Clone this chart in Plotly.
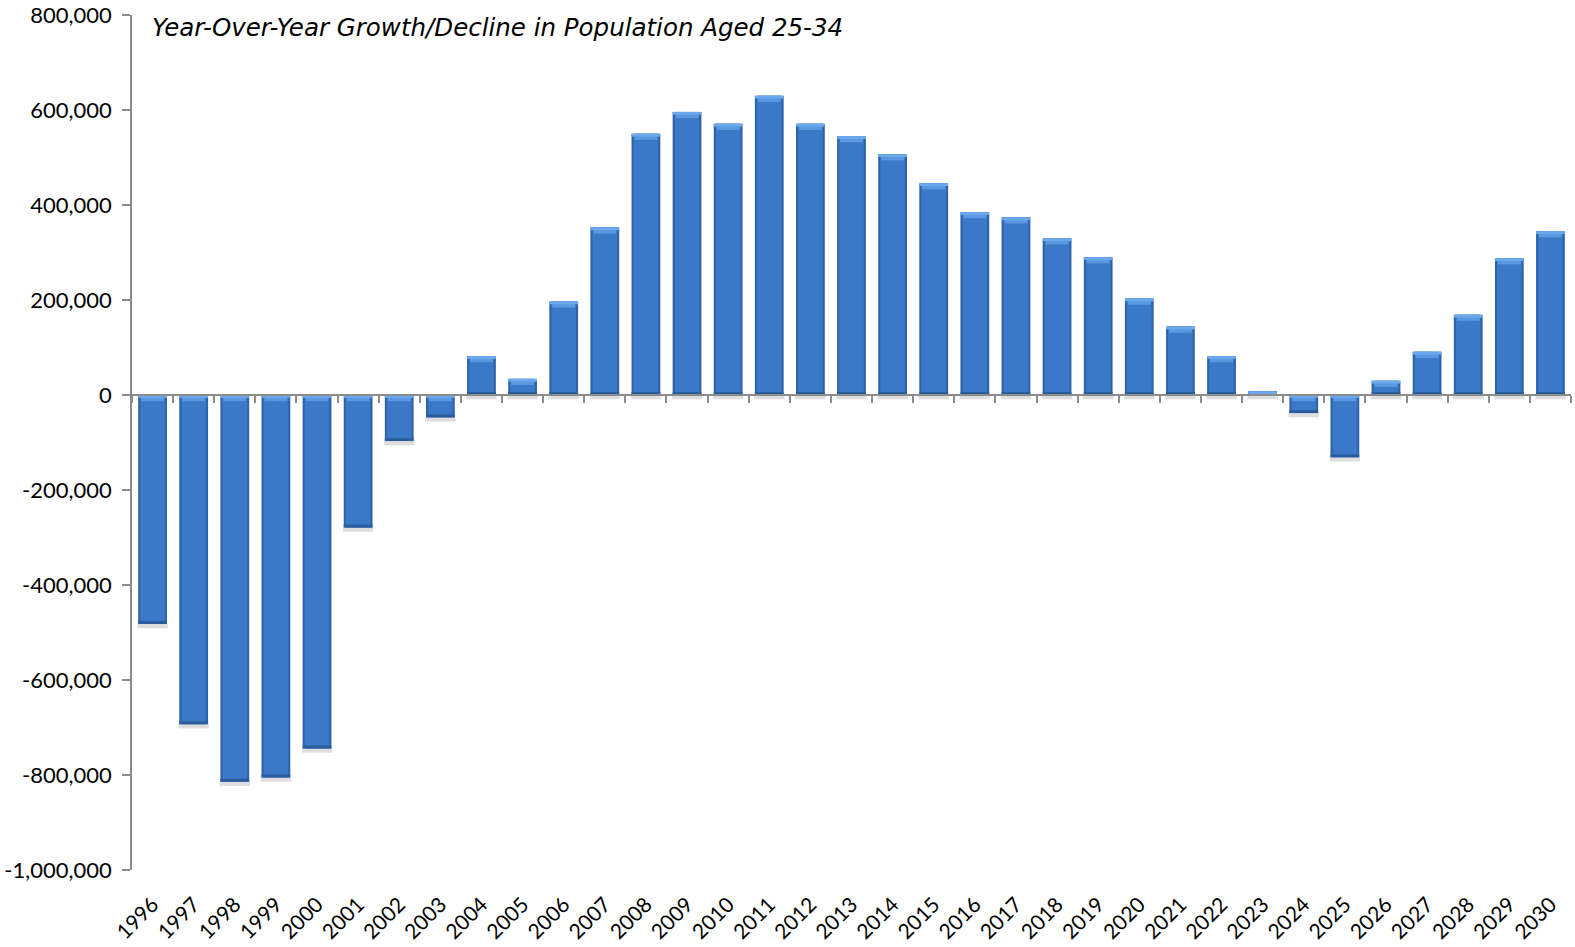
import plotly.graph_objects as go

# Year-over-year change in the 25-34 population
years = [str(y) for y in range(1996, 2031)]
change = [
    -482000, -693000, -814000, -805000, -744000, -279000, -97000, -47000,
    82000, 34000, 197000, 353000, 550000, 596000, 571000, 630000,
    571000, 545000, 507000, 446000, 385000, 374000, 330000, 290000,
    203000, 144000, 82000, 8000, -38000, -131000, 30000, 91000,
    169000, 288000, 345000,
]

title_text = "Year-Over-Year Growth/Decline in Population Aged 25-34"
y_min, y_max, y_step = -1000000, 800000, 200000
y_ticks = list(range(y_min, y_max + 1, y_step))
y_labels = [f"{v:,}" for v in y_ticks]  # plain hyphen for negatives

# bevel pieces: light cap at the upper end, dark rim at the lower end, shadow under it
def clip(length, v):
    return min(length, abs(v))

upper_end = [max(v, 0) for v in change]
lower_end = [min(v, 0) for v in change]
cap_outer = [-clip(6000, v) for v in change]
cap_inner = [-clip(13000, v) for v in change]
rim = [clip(6000, v) for v in change]
shadow = [-9000 for v in change]

fig = go.Figure()

def add_bar(y, width, color, base=None, name=None):
    fig.add_trace(go.Bar(
        x=years, y=y, base=base, width=width,
        marker=dict(color=color, line=dict(width=0)),
        name=name, showlegend=False,
        hoverinfo="x+y" if name else "skip",
    ))

add_bar(shadow, 0.74, "rgba(0,0,0,0.13)", base=lower_end)
add_bar(change, 0.7, "#2f62a8", name="Change")
add_bar(change, 0.6, "#3b78c8")
add_bar(rim, 0.7, "#2c5b9c", base=lower_end)
add_bar(cap_inner, 0.56, "#5a98e0", base=upper_end)
add_bar(cap_outer, 0.7, "#6ca8ec", base=upper_end)

# carrier for the zero-line axis with boundary ticks
fig.add_trace(go.Scatter(
    x=years, y=[0] * len(years), xaxis="x2", mode="markers",
    marker=dict(opacity=0), hoverinfo="skip", showlegend=False,
))

fig.update_layout(
    width=1575, height=947,
    margin=dict(l=132, r=4, t=15, b=77, autoexpand=False),
    paper_bgcolor="white", plot_bgcolor="white",
    barmode="overlay", bargap=0.3,
    font=dict(family="Lato, Open Sans, sans-serif", size=20, color="#000000"),
    xaxis=dict(
        type="category", range=[-0.5, len(years) - 0.5],
        showline=False, showgrid=False, zeroline=False,
        ticks="outside", ticklen=13, tickcolor="rgba(0,0,0,0)",
        tickangle=-45, tickfont=dict(size=21), automargin=False,
    ),
    xaxis2=dict(
        type="category", overlaying="x", anchor="free",
        position=(0 - y_min) / (y_max - y_min),
        range=[-0.5, len(years) - 0.5],
        showline=True, linecolor="#8c8c8c", linewidth=1.5,
        ticks="outside", ticklen=7, tickcolor="#8c8c8c", tickwidth=1.5,
        tickson="boundaries", showticklabels=False, showgrid=False,
    ),
    yaxis=dict(
        range=[y_min, y_max], tickvals=y_ticks, ticktext=y_labels,
        showline=True, linecolor="#8c8c8c", linewidth=1.5,
        ticks="outside", ticklen=8, tickcolor="#8c8c8c", tickwidth=1.5,
        ticklabelstandoff=6,
        showgrid=False, zeroline=False, automargin=False,
        tickfont=dict(size=22),
    ),
    annotations=[dict(
        text=title_text, xref="paper", yref="paper",
        x=0.0125, y=0.985, xanchor="left", yanchor="middle",
        showarrow=False,
        font=dict(family="DejaVu Sans", size=24.5, color="#000000", style="italic"),
    )],
)

fig.write_html("out.html")
